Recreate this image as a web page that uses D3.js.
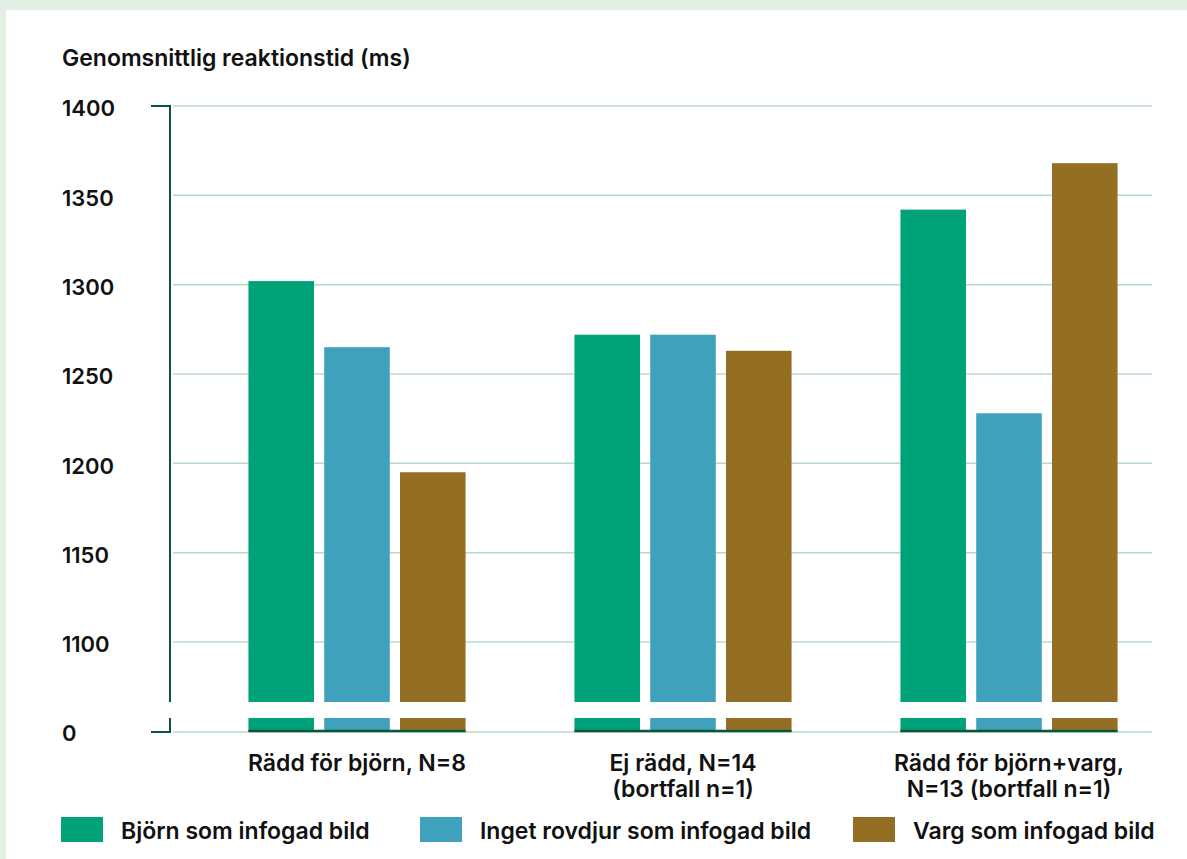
<!DOCTYPE html>
<html>
<head>
<meta charset="utf-8">
<script src="https://cdn.jsdelivr.net/npm/d3@7"></script>
<style>
	body { margin: 0; background: #e2f0e4; }
	svg { display: block; }
</style>
</head>
<body>
<div class="chart"></div>
<script>
var categories = [['Rädd för björn, N=8'], ['Ej rädd, N=14', '(bortfall n=1)'], ['Rädd för björn+varg,', 'N=13 (bortfall n=1)']];
var seriesNames = ['Björn som infogad bild', 'Inget rovdjur som infogad bild', 'Varg som infogad bild'];
var bjorn = [1302, 1272, 1342];
var inget = [1265, 1272, 1228];
var varg = [1195, 1263, 1368];
var yTicks = [1100, 1150, 1200, 1250, 1300, 1350, 1400];
var yTitle = 'Genomsnittlig reaktionstid (ms)';

var textColor = '#111',
	green = '#00a27a',
	blue = '#40a1bc',
	brown = '#946e22',
	axisColor = '#0b5538',
	gridColor = '#b9dcc1',
	fontFamily = 'Inter, Roboto, sans-serif',
	fontSize = '23px';
var colors = [green, blue, brown];
var series = [bjorn, inget, varg];

var W = 1187, H = 859;
var svg = d3.select('.chart').append('svg')
	.attr('width', W)
	.attr('height', H)
	.attr('font-family', fontFamily)
	.attr('font-weight', 600)
	.attr('fill', textColor);

// white panel
svg.append('rect')
	.attr('x', 6).attr('y', 10)
	.attr('width', W - 6).attr('height', H - 10)
	.attr('fill', '#fff');

var axisX = 170, gridRight = 1152;
var breakTop = 702, breakBottom = 718, zeroY = 732;
var y = d3.scaleLinear().domain([1100, 1400]).range([642, 106]);
var x0 = d3.scaleBand().domain(d3.range(categories.length)).range([194, 1172]).paddingInner(0.334).paddingOuter(0.167);
var x1 = d3.scaleBand().domain(d3.range(series.length)).range([0, x0.bandwidth()]).paddingInner(0.135);

// grid lines
svg.append('g').selectAll('line')
	.data(yTicks.concat([0]))
	.join('line')
	.attr('x1', axisX + 3)
	.attr('x2', gridRight)
	.attr('y1', function(d) { return d === 0 ? zeroY : y(d); })
	.attr('y2', function(d) { return d === 0 ? zeroY : y(d); })
	.attr('stroke', gridColor)
	.attr('stroke-width', 1.5);

// bars: upper part down to the break, and a short stub above zero
categories.forEach(function(c, i) {
	var g = svg.append('g').attr('transform', 'translate(' + x0(i) + ',0)');
	series.forEach(function(s, j) {
		g.append('rect')
			.attr('x', x1(j))
			.attr('y', y(s[i]))
			.attr('width', x1.bandwidth())
			.attr('height', breakTop - y(s[i]))
			.attr('fill', colors[j]);
		g.append('rect')
			.attr('x', x1(j))
			.attr('y', breakBottom)
			.attr('width', x1.bandwidth())
			.attr('height', zeroY - breakBottom)
			.attr('fill', colors[j]);
	});
	g.append('line')
		.attr('x1', 0).attr('x2', x0.bandwidth())
		.attr('y1', zeroY - 1).attr('y2', zeroY - 1)
		.attr('stroke', axisColor)
		.attr('stroke-width', 2.5);
});

// y axis labels
var yAxis = svg.append('g')
	.attr('transform', 'translate(' + axisX + ',0)')
	.call(d3.axisLeft(y).tickValues(yTicks).tickSize(0).tickFormat(function(d) { return d; }));
yAxis.select('.domain').remove();
yAxis.selectAll('text')
	.attr('x', 62 - axisX)
	.attr('dy', '0.45em')
	.attr('text-anchor', 'start')
	.attr('font-family', fontFamily)
	.attr('font-size', '22px')
	.attr('font-weight', 600)
	.attr('fill', textColor);

// axis line with break
svg.append('path')
	.attr('d', 'M151,' + y(1400) + 'H' + axisX + 'V' + breakTop)
	.attr('fill', 'none').attr('stroke', axisColor).attr('stroke-width', 2);
svg.append('path')
	.attr('d', 'M' + axisX + ',' + breakBottom + 'V' + zeroY + 'H151')
	.attr('fill', 'none').attr('stroke', axisColor).attr('stroke-width', 2);
svg.append('text')
	.attr('x', 62)
	.attr('y', zeroY)
	.attr('dy', '0.4em')
	.attr('font-size', '22px')
	.text('0');

// axis title
svg.append('text')
	.attr('x', 62)
	.attr('y', 66)
	.attr('font-size', fontSize)
	.text(yTitle);

// category labels
categories.forEach(function(lines, i) {
	var cx = x0(i) + x0.bandwidth() / 2;
	var t = svg.append('text')
		.attr('x', cx)
		.attr('y', 771)
		.attr('text-anchor', 'middle')
		.attr('font-size', fontSize);
	lines.forEach(function(l, k) {
		t.append('tspan')
			.attr('x', cx)
			.attr('dy', k === 0 ? 0 : 26)
			.text(l);
	});
});

// legend
var legendX = [61, 420, 853];
seriesNames.forEach(function(n, j) {
	svg.append('rect')
		.attr('x', legendX[j]).attr('y', 817)
		.attr('width', 42).attr('height', 25)
		.attr('fill', colors[j]);
	svg.append('text')
		.attr('x', legendX[j] + 60)
		.attr('y', 839)
		.attr('font-size', fontSize)
		.text(n);
});
</script>
</body>
</html>
